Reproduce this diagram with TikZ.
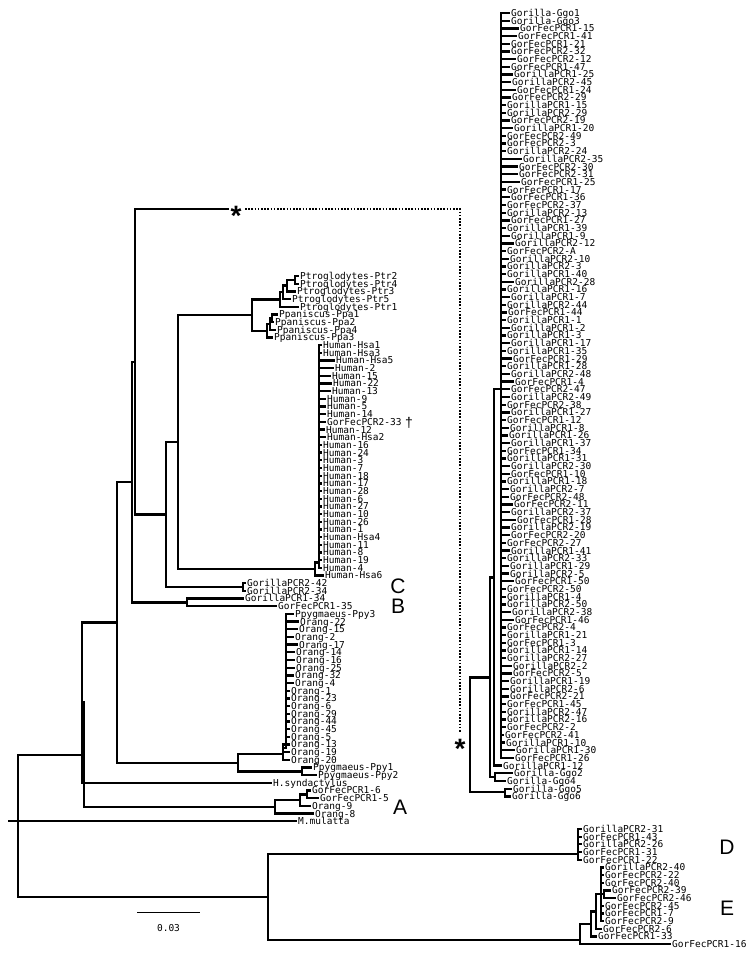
\documentclass[tikz,border=0pt]{standalone}
\usepackage{fontspec}
\setmainfont{Liberation Sans}
\setmonofont{DejaVu Sans Mono}
\pgfmathdeclarefunction{gy}{1}{\pgfmathparse{13+(#1-1)*7.68}}
\pgfmathdeclarefunction{ky}{1}{\pgfmathparse{276+#1*7.68}}
\begin{document}
\begin{tikzpicture}[x=1pt,y=-1pt,
  br/.style={line width=2.3pt,line cap=rect,line join=miter},
  lf/.style={anchor=west,inner sep=0pt,font=\ttfamily\fontsize{9.5}{9.5}\selectfont,text height=6.8pt,text depth=0pt},
  big/.style={inner sep=0pt,font=\fontsize{21}{21}\selectfont,text height=15pt,text depth=0pt},
  dots/.style={line width=1.2pt,dash pattern=on 1.6pt off 1.6pt}]
\useasboundingbox (0,0) rectangle (755,958);
% ---------------- right column (collapsed gorilla clade)
\foreach \r/\lx/\t in {1/511/Gorilla-Ggo1,2/511/Gorilla-Ggo3,3/520/GorFecPCR1-15,4/518/GorFecPCR1-41,5/511/GorFecPCR1-21,6/511/GorFecPCR2-32,7/517/GorFecPCR2-12,8/511/GorFecPCR1-47,9/514/GorillaPCR1-25,10/512/GorillaPCR2-45,11/517/GorFecPCR1-24,12/512/GorFecPCR2-29,13/507/GorillaPCR1-15,14/507/GorillaPCR2-29,15/511/GorFecPCR2-19,16/514/GorillaPCR1-20,17/507/GorFecPCR2-49,18/507/GorFecPCR2-3,19/507/GorillaPCR2-24,20/523/GorillaPCR2-35,21/519/GorFecPCR2-30,22/519/GorFecPCR2-31,23/521/GorFecPCR1-25,24/507/GorFecPCR1-17,25/511/GorFecPCR1-36,26/507/GorFecPCR2-37,27/507/GorillaPCR2-13,28/511/GorFecPCR1-27,29/507/GorillaPCR1-39,30/511/GorillaPCR1-9,31/515/GorillaPCR2-12,32/507/GorFecPCR2-A,33/510/GorillaPCR2-10,34/507/GorillaPCR2-3,35/507/GorillaPCR1-40,36/515/GorillaPCR2-28,37/507/GorillaPCR1-16,38/511/GorillaPCR1-7,39/507/GorillaPCR2-44,40/508/GorFecPCR1-44,41/507/GorillaPCR1-1,42/511/GorillaPCR1-2,43/507/GorillaPCR1-3,44/511/GorillaPCR1-17,45/507/GorillaPCR1-35,46/513/GorFecPCR1-29,47/507/GorillaPCR1-28,48/511/GorillaPCR2-48,49/515/GorFecPCR1-4,50/511/GorFecPCR2-47,51/511/GorillaPCR2-49,52/507/GorFecPCR2-38,53/511/GorillaPCR1-27,54/507/GorFecPCR1-12,55/510/GorillaPCR1-8,56/509/GorillaPCR1-26,57/511/GorillaPCR1-37,58/507/GorFecPCR1-34,59/507/GorillaPCR1-31,60/511/GorillaPCR2-30,61/511/GorFecPCR1-10,62/507/GorillaPCR1-18,63/510/GorillaPCR2-7,64/510/GorFecPCR2-48,65/514/GorFecPCR2-11,66/511/GorillaPCR2-37,67/517/GorFecPCR1-28,68/511/GorillaPCR2-19,69/511/GorFecPCR2-20,70/507/GorFecPCR2-27,71/511/GorillaPCR1-41,72/507/GorillaPCR2-33,73/510/GorillaPCR1-29,74/510/GorillaPCR2-5,75/515/GorFecPCR1-50,76/507/GorFecPCR2-50,77/507/GorillaPCR1-4,78/507/GorillaPCR2-50,79/512/GorillaPCR2-38,80/515/GorFecPCR1-46,81/507/GorFecPCR2-4,82/507/GorillaPCR1-21,83/507/GorFecPCR1-3,84/507/GorillaPCR1-14,85/507/GorillaPCR2-27,86/513/GorillaPCR2-2,87/513/GorFecPCR2-5,88/510/GorillaPCR1-19,89/510/GorillaPCR2-6,90/510/GorFecPCR2-21,91/507/GorFecPCR1-45,92/507/GorillaPCR2-47,93/507/GorillaPCR2-16,94/507/GorFecPCR2-2,95/505/GorFecPCR2-41,96/506/GorillaPCR1-10,97/516/GorillaPCR1-30,98/515/GorFecPCR1-26,99/503/GorillaPCR1-12,100/514/Gorilla-Ggo2,101/507/Gorilla-Ggo4,102/513/Gorilla-Ggo5,103/512/Gorilla-Ggo6}
  {\node[lf] (g\r) at (\lx,{gy(\r)}) {\t};}
\foreach \r in {1,...,98}
  {\draw[br] (501,{gy(\r)}) -- ([xshift=-2pt]g\r.west);}
\draw[br] (494,{gy(99)}) -- ([xshift=-2pt]g99.west);
\foreach \r in {100,101}
  {\draw[br] (495,{gy(\r)}) -- ([xshift=-2pt]g\r.west);}
\foreach \r in {102,103}
  {\draw[br] (505,{gy(\r)}) -- ([xshift=-2pt]g\r.west);}
\coordinate (G3t) at (501,{gy(1)});
\coordinate (G3b) at (501,{gy(98)});
\draw[br] (G3t) -- (G3b);
\draw[br] (494,{gy(50)}) -- (501,{gy(50)});
\draw[br] (494,{gy(50)}) -- (494,{gy(99)});
\draw[br] (490,577.5) -- (494,577.5);
\draw[br] (495,{gy(100)}) -- (495,{gy(101)});
\draw[br] (490,577.5) -- (490,777.3) -- (495,777.3);
\draw[br] (505,{gy(102)}) -- (505,{gy(103)});
\draw[br] (470,677.4) -- (490,677.4);
\draw[br] (470,792.3) -- (505,792.3);
\coordinate (G0t) at (470,677.4);
\coordinate (G0b) at (470,792.3);
\draw[br] (G0t) -- (G0b);
% ---------------- left leaves
\foreach \k/\lx/\ax/\t in {0/300/295/Ptroglodytes-Ptr2,1/300/295/Ptroglodytes-Ptr4,2/297/287/Ptroglodytes-Ptr3,3/292/283/Ptroglodytes-Ptr5,4/300/280/Ptroglodytes-Ptr1,5/279/272/Ppaniscus-Ppa1,6/275/272/Ppaniscus-Ppa2,7/277/270/Ppaniscus-Ppa4,8/274/267/Ppaniscus-Ppa3,
 9/323/319/Human-Hsa1,10/323/319/Human-Hsa3,11/336/319/Human-Hsa5,12/335/319/Human-2,13/332/319/Human-15,14/333/319/Human-22,15/332/319/Human-13,16/327/319/Human-9,17/327/319/Human-5,18/327/319/Human-14,19/327/319/GorFecPCR2-33,20/326/319/Human-12,21/327/319/Human-Hsa2,22/323/319/Human-16,23/323/319/Human-24,24/323/319/Human-3,25/323/319/Human-7,26/323/319/Human-18,27/323/319/Human-17,28/323/319/Human-28,29/323/319/Human-6,30/323/319/Human-27,31/323/319/Human-10,32/323/319/Human-26,33/323/319/Human-1,34/323/319/Human-Hsa4,35/323/319/Human-11,36/323/319/Human-8,37/323/319/Human-19,38/323/319/Human-4,39/325/315/Human-Hsa6,
 40/247/243/GorillaPCR2-42,41/247/243/GorillaPCR2-34,42/245/187/GorillaPCR1-34,43/278/187/GorFecPCR1-35,
 44/295/286/Ppygmaeus-Ppy3,45/300/286/Orang-22,46/299/286/Orang-15,47/295/286/Orang-2,48/299/286/Orang-17,49/296/286/Orang-14,50/296/286/Orang-16,51/296/286/Orang-25,52/295/286/Orang-32,53/295/286/Orang-4,54/291/286/Orang-1,55/291/286/Orang-23,56/291/286/Orang-6,57/291/286/Orang-29,58/291/286/Orang-44,59/291/286/Orang-45,60/291/286/Orang-5,61/291/283/Orang-13,62/291/283/Orang-19,63/291/283/Orang-20,
 64/313/302/Ppygmaeus-Ppy1,65/318/302/Ppygmaeus-Ppy2,66/273/84/H.syndactylus,67/312/307/GorFecPCR1-6,68/320/307/GorFecPCR1-5,69/312/300/Orang-9,70/315/275/Orang-8,71/298/9/M.mulatta,
 72/583/578/GorillaPCR2-31,73/583/578/GorFecPCR1-43,74/583/578/GorillaPCR2-26,75/583/578/GorFecPCR1-31,76/583/578/GorFecPCR1-22,
 77/605/601/GorillaPCR2-40,78/605/601/GorFecPCR2-22,79/605/601/GorFecPCR2-40,80/612/604/GorFecPCR2-39,81/617/604/GorFecPCR2-46,82/605/601/GorFecPCR2-45,83/605/601/GorFecPCR1-7,84/605/601/GorFecPCR2-9,85/603/596/GorFecPCR2-6,86/598/591/GorFecPCR1-33,87/672/580/GorFecPCR1-16}
  {\node[lf] (l\k) at (\lx,{ky(\k)}) {\t};
   \draw[br] (\ax,{ky(\k)}) -- ([xshift=-2pt]l\k.west);}
% dagger
\node[inner sep=0pt,anchor=base,font=\fontsize{14}{14}\selectfont] (dag) at (409,427) {†};
% Pan
\draw[br] (295,276) -- (295,283.68);
\draw[br] (287,279.84) -- (295,279.84);
\draw[br] (287,279.84) -- (287,291.36);
\draw[br] (283,285.6) -- (287,285.6);
\draw[br] (283,285.6) -- (283,299.04);
\draw[br] (280,292.32) -- (283,292.32);
\draw[br] (280,292.32) -- (280,306.72);
\draw[br] (272,314.4) -- (272,322.08);
\draw[br] (270,318.24) -- (272,318.24);
\draw[br] (270,318.24) -- (270,329.76);
\draw[br] (267,324) -- (270,324);
\draw[br] (267,324) -- (267,337.44);
\draw[br] (252,299.52) -- (280,299.52);
\draw[br] (252,330.72) -- (267,330.72);
\draw[br] (252,299.52) -- (252,330.72);
% Human
\draw[br] (319,345.12) -- (319,568.32);
\draw[br] (315,562.5) -- (319,562.5);
\draw[br] (315,562.5) -- (315,575.52);
% Pan+Human, C, star, B
\draw[br] (178,315.12) -- (252,315.12);
\draw[br] (178,569) -- (315,569);
\draw[br] (178,315.12) -- (178,569);
\draw[br] (243,583.2) -- (243,590.88);
\draw[br] (166,442.06) -- (178,442.06);
\draw[br] (166,587.04) -- (243,587.04);
\draw[br] (166,442.06) -- (166,587.04);
\coordinate (stbr) at (228,209);
\draw[br] (135,209) -- (stbr);
\draw[br] (135,514.55) -- (166,514.55);
\draw[br] (135,209) -- (135,514.55);
\draw[br] (187,598.56) -- (187,606.24);
\draw[br] (132,361.8) -- (135,361.8);
\draw[br] (132,602.4) -- (187,602.4);
\draw[br] (132,361.8) -- (132,602.4);
% star and dotted link
\node[inner sep=0pt,anchor=base,font=\bfseries\fontsize{28}{28}\selectfont] (st1) at (236,225) {*};
\node[inner sep=0pt,anchor=base,font=\bfseries\fontsize{28}{28}\selectfont] (st2) at (460,758) {*};
\coordinate (dA) at (245,209);
\coordinate (dB) at (460,209);
\coordinate (dC) at (460,733);
\draw[dots] (dA) -- (dB) -- (dC);
% Orang
\draw[br] (286,613.92) -- (286,748);
\draw[br] (283,748) -- (286,748);
\draw[br] (283,744.96) -- (283,759.84);
\draw[br] (302,767.52) -- (302,775.2);
\draw[br] (238,754) -- (283,754);
\draw[br] (238,771.36) -- (302,771.36);
\draw[br] (238,754) -- (238,771.36);
\draw[br] (117,482.1) -- (132,482.1);
\draw[br] (117,762.7) -- (238,762.7);
\draw[br] (117,482.1) -- (117,762.7);
% A clade
\draw[br] (307,790.56) -- (307,798.24);
\draw[br] (300,794.4) -- (307,794.4);
\draw[br] (300,794.4) -- (300,805.92);
\draw[br] (275,800.16) -- (300,800.16);
\draw[br] (275,800.16) -- (275,813.6);
% Y', Q, root
\draw[br] (82,622.4) -- (117,622.4);
\draw[br] (82,622.4) -- (82,782.88);
\draw[br] (84,806.9) -- (275,806.9);
\draw[br] (84,702.6) -- (84,806.9);
\draw[br] (18,754.75) -- (84,754.75);
\draw[br] (18,754.75) -- (18,897);
\draw[br] (18,897) -- (268,897);
% D / E
\draw[br] (268,854) -- (268,940);
\draw[br] (268,854) -- (578,854);
\draw[br] (578,829.44) -- (578,860.16);
\draw[br] (604,890.4) -- (604,898.08);
\draw[br] (601,894.24) -- (604,894.24);
\draw[br] (601,867.36) -- (601,921.12);
\draw[br] (596,894.24) -- (601,894.24);
\draw[br] (596,894.24) -- (596,928.8);
\draw[br] (591,911.5) -- (596,911.5);
\draw[br] (591,911.5) -- (591,936.48);
\draw[br] (580,924) -- (591,924);
\draw[br] (580,924) -- (580,944.16);
\draw[br] (268,940) -- (580,940);
% clade letters
\node[big] (lC) at (398,586) {C};
\node[big] (lB) at (398,606) {B};
\node[big] (lA) at (400,807) {A};
\node[big] (lD) at (727,847) {D};
\node[big] (lE) at (727,908) {E};
% scale bar
\coordinate (sb1) at (137,912);
\coordinate (sb2) at (200,912);
\draw[line width=1pt] (sb1) -- (sb2);
\node[lf,anchor=center] (sbl) at (168.5,928) {0.03};
\end{tikzpicture}
\end{document}
